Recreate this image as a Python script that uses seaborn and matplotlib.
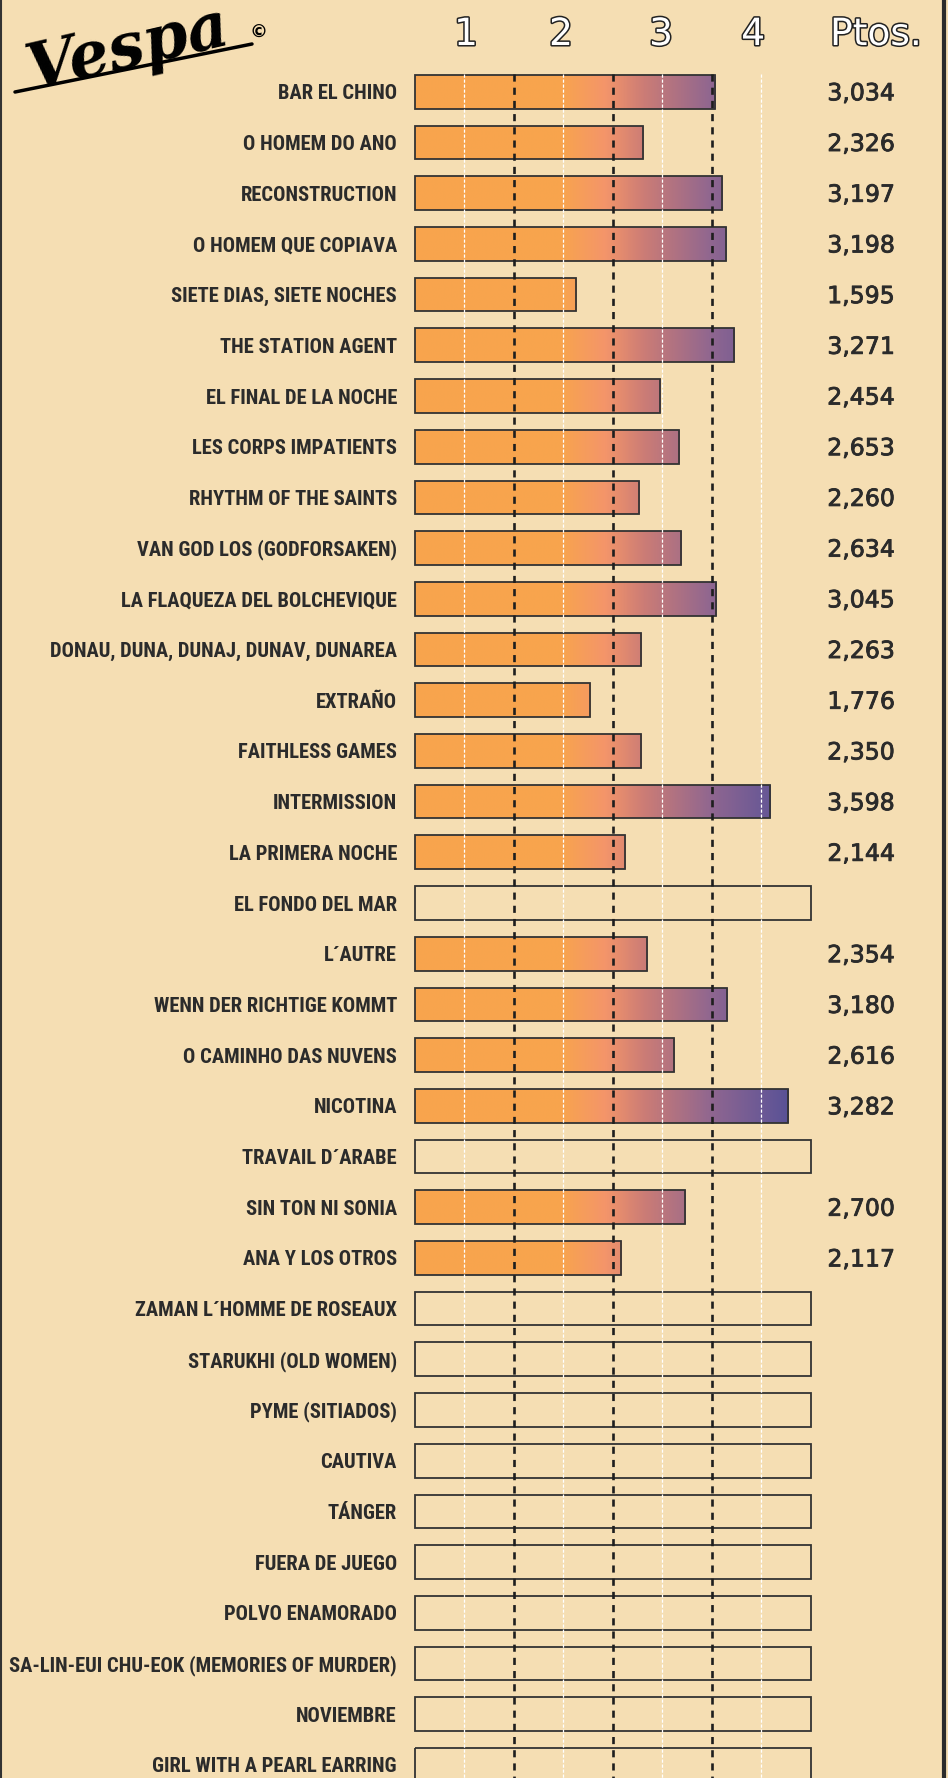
import numpy as np
import pandas as pd
import matplotlib
matplotlib.use("Agg")
import matplotlib.pyplot as plt
import matplotlib.patheffects as pe
from matplotlib import font_manager as fm
from matplotlib.colors import LinearSegmentedColormap
from matplotlib.lines import Line2D
import seaborn as sns

titles = ["BAR EL CHINO", "O HOMEM DO ANO", "RECONSTRUCTION", "O HOMEM QUE COPIAVA",
          "SIETE DIAS, SIETE NOCHES", "THE STATION AGENT", "EL FINAL DE LA NOCHE",
          "LES CORPS IMPATIENTS", "RHYTHM OF THE SAINTS", "VAN GOD LOS (GODFORSAKEN)",
          "LA FLAQUEZA DEL BOLCHEVIQUE", "DONAU, DUNA, DUNAJ, DUNAV, DUNAREA", "EXTRAÑO",
          "FAITHLESS GAMES", "INTERMISSION", "LA PRIMERA NOCHE", "EL FONDO DEL MAR",
          "L´AUTRE", "WENN DER RICHTIGE KOMMT", "O CAMINHO DAS NUVENS", "NICOTINA",
          "TRAVAIL D´ARABE", "SIN TON NI SONIA", "ANA Y LOS OTROS",
          "ZAMAN L´HOMME DE ROSEAUX", "STARUKHI (OLD WOMEN)", "PYME (SITIADOS)", "CAUTIVA",
          "TÁNGER", "FUERA DE JUEGO", "POLVO ENAMORADO",
          "SA-LIN-EUI CHU-EOK (MEMORIES OF MURDER)", "NOVIEMBRE", "GIRL WITH A PEARL EARRING"]

# printed scores (None = not voted yet)
ptos = [3.034, 2.326, 3.197, 3.198, 1.595, 3.271, 2.454, 2.653, 2.260, 2.634, 3.045,
        2.263, 1.776, 2.350, 3.598, 2.144, None, 2.354, 3.180, 2.616, 3.282, None,
        2.700, 2.117] + [None] * 10

# bar lengths as drawn in the picture
bar_len = [3.04, 2.31, 3.11, 3.15, 1.63, 3.23, 2.48, 2.67, 2.27, 2.69, 3.05, 2.29,
           1.77, 2.29, 3.59, 2.13, None, 2.35, 3.16, 2.62, 3.77, None, 2.73, 2.09] + [None] * 10

scale_max = 4
header = ["1", "2", "3", "4"]

bg = "#F5DEB3"
ink = "#2b2b2b"
grad_stops = [(0.0, "#F8A54D"), (0.37, "#F8A44E"), (0.48, "#F4956A"), (0.58, "#CB7C76"),
              (0.75, "#8F6690"), (0.87, "#6E5A95"), (0.94, "#5A5296"), (1.0, "#504C95")]
cmap = LinearSegmentedColormap.from_list("vespa", grad_stops)

df = pd.DataFrame({"title": titles, "bar": bar_len})
df["scored"] = df["bar"].notna()
df["bar"] = df["bar"].fillna(scale_max)

sns.set_style("white")
names = {f.name for f in fm.fontManager.ttflist}
lab_font = "DejaVu Sans"
for fam in ["Liberation Sans Narrow", "Roboto Condensed", "Arial Narrow", "Roboto", "Lato"]:
    if fam in names:
        lab_font = fam
        break

W, H = 948, 1778
fig = plt.figure(figsize=(W / 100, H / 100), dpi=100, facecolor=bg)
ax = fig.add_axes([0, 0, 1, 1])
ax.set_facecolor("none")

sns.barplot(data=df, x="bar", y="title", order=titles, orient="h", color="white",
            saturation=1, width=0.665, edgecolor="#333333", linewidth=1.3,
            errorbar=None, ax=ax)

px = 99.0
x0 = 414.5
row0, row_h = 91.8, 50.7
xlim = (-x0 / px, (W - x0) / px)
ylim = ((H - row0) / row_h, -row0 / row_h)

grad = np.linspace(0, 1, 500).reshape(1, -1)
for patch, ok in zip(ax.patches, df["scored"]):
    patch.set_facecolor("none")
    patch.set_zorder(3)
    if ok:
        y = patch.get_y()
        h = patch.get_height()
        im = ax.imshow(grad, cmap=cmap, vmin=0, vmax=1, aspect="auto",
                       extent=(0, scale_max, y + h, y), zorder=2, interpolation="bilinear")
        im.set_clip_path(patch)

# guide lines
ytop = -0.345
ax.vlines([0.5, 1.5, 2.5, 3.5], ytop, ylim[0], colors="white", linewidth=0.9,
          linestyles=[(0, (2.6, 1.4))], zorder=4)
ax.vlines([1, 2, 3], ytop, ylim[0], colors="#1e1e1e", linewidth=1.9,
          linestyles=[(0, (2.7, 2.3))], zorder=5)

ax.set_xlim(*xlim)
ax.set_ylim(*ylim)
ax.axis("off")

# fit row labels to the width used in the reference
renderer = fig.canvas.get_renderer()
probe = ax.text(0, 0, max(titles, key=len), fontsize=14, fontweight="bold", family=lab_font)
wpx = probe.get_window_extent(renderer).width
probe.remove()
lab_size = min(14 * 390 / wpx, 15)

for i, t in enumerate(titles):
    ax.text(-0.177, i + 0.04, t, ha="right", va="center", fontsize=lab_size,
            fontweight="bold", family=lab_font, color=ink)

for i, v in enumerate(ptos):
    if v is not None:
        ax.text(4.51, i + 0.03, f"{v:.3f}".replace(".", ","), ha="center", va="center",
                fontsize=17, color=ink,
                path_effects=[pe.withStroke(linewidth=0.6, foreground=ink)])

outline = [pe.withStroke(linewidth=2.2, foreground="#222222")]
hy = -1.12
for xp, lab in zip([0.52, 1.48, 2.49, 3.42], header):
    ax.text(xp, hy, lab, ha="center", va="center", fontsize=27, color="white",
            path_effects=outline)
ax.text(4.66, hy, "Ptos.", ha="center", va="center", fontsize=27, color="white",
        path_effects=outline)

# logo
fig.text(128 / W, 1 - 50 / H, "Vespa", ha="center", va="center", fontsize=46,
         family="DejaVu Serif", style="italic", fontweight="bold", color="black", rotation=13)
fig.text(258 / W, 1 - 33 / H, "©", ha="center", va="center", fontsize=13,
         color="black", fontweight="bold")
fig.add_artist(Line2D([15 / W, 252 / W], [1 - 92 / H, 1 - 44 / H], color="black",
                      linewidth=2.5, solid_capstyle="round"))

# page frame
fig.add_artist(Line2D([1.0 / W] * 2, [0, 1], color="#333333", linewidth=1.5))
fig.add_artist(Line2D([944 / W] * 2, [0, 1], color="#2b2b2b", linewidth=3))

fig.savefig("out.png", dpi=100, facecolor=bg)
